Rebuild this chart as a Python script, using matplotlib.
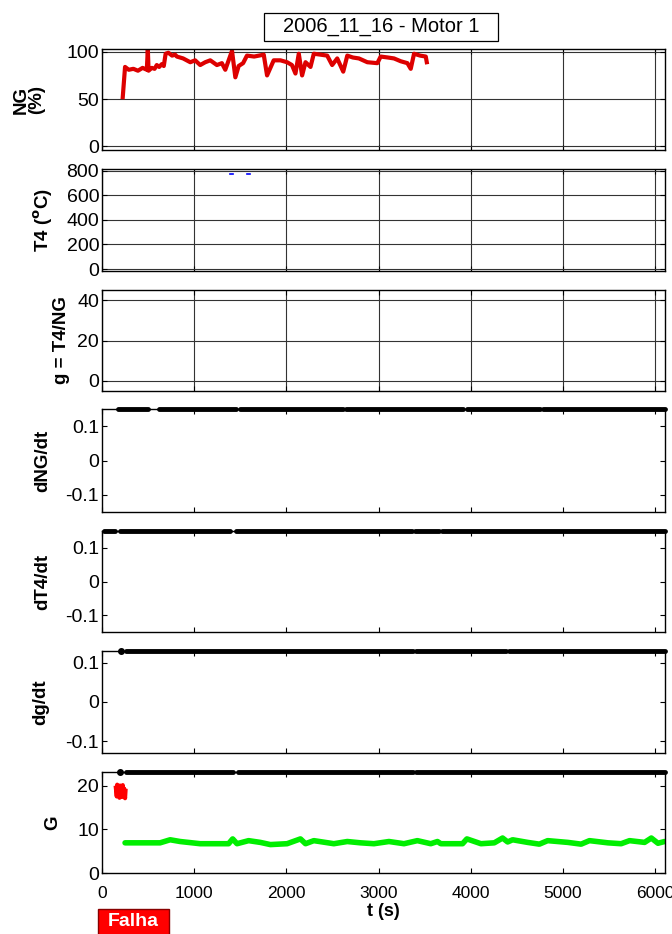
import matplotlib
matplotlib.use('Agg')
import matplotlib.pyplot as plt
from matplotlib.patches import Rectangle
import numpy as np

plt.rcParams['font.family'] = ['Liberation Sans', 'DejaVu Sans']

# NG (%) - motor 1
ng_t = [225, 250, 290, 340, 390, 440, 486, 497, 505, 540, 570, 594, 620, 649, 670, 690,
        720, 760, 793, 812, 880, 957, 1010, 1065, 1120, 1174, 1246, 1300, 1337, 1410,
        1446, 1482, 1530, 1572, 1650, 1754, 1790, 1862, 1935, 2007, 2060, 2098, 2134,
        2170, 2207, 2261, 2297, 2370, 2442, 2496, 2551, 2616, 2660, 2720, 2786, 2877,
        2986, 3022, 3100, 3167, 3240, 3312, 3348, 3384, 3450, 3511, 3522]
ng_v = [52, 84, 81, 82, 80, 83, 81, 103, 80, 83, 82, 86, 84, 87, 85, 98,
        99, 96, 97, 95, 93, 89, 91, 86, 89, 91, 86, 88, 81, 101,
        73, 85, 88, 96, 95, 97, 75, 91, 91, 89, 86, 77, 98,
        75, 89, 84, 98, 97, 96, 86, 93, 79, 96, 94, 93, 89,
        88, 95, 94, 93, 90, 88, 82, 98, 96, 95, 89]

# T4 - only two short blue pieces visible
t4_t = [[1389, 1425], [1570, 1606]]
t4_v = [[770, 770], [770, 770]]

# G (green = normal, red = fault)
g_t = [250, 630, 739, 848, 1065, 1283, 1373, 1417, 1464, 1590, 1717, 1826, 2007, 2152,
       2207, 2297, 2514, 2660, 2804, 2949, 3112, 3275, 3420, 3565, 3638, 3674, 3910,
       3957, 4109, 4254, 4344, 4399, 4453, 4616, 4743, 4833, 5051, 5196, 5286, 5486,
       5630, 5721, 5884, 5957, 6029, 6100]
g_v = [6.9, 6.9, 7.6, 7.2, 6.7, 6.7, 6.7, 7.8, 6.7, 7.4, 7.0, 6.5, 6.7, 7.8,
       6.7, 7.4, 6.7, 7.2, 6.9, 6.7, 7.2, 6.7, 7.4, 6.7, 7.2, 6.7, 6.7,
       7.8, 6.7, 6.9, 8.0, 7.1, 7.6, 7.0, 6.6, 7.4, 7.0, 6.6, 7.4, 6.9,
       6.7, 7.4, 7.0, 8.0, 6.8, 7.2]
gf_t = [150, 160, 165, 175, 180, 190, 195, 205, 210, 220, 225, 235, 240, 250, 255]
gf_v = [19.5, 17.5, 20.2, 18.0, 19.8, 17.2, 20.0, 18.5, 19.6, 17.4, 20.1, 18.2, 19.3, 17.1, 18.8]

# black points sitting on the upper limit (start, end in s)
dng_seg = [(172, 498), (614, 1451), (1498, 2614), (2651, 3917), (3953, 4753), (4777, 6100)]
dt4_seg = [(24, 140), (190, 1390), (1450, 3360), (3390, 3650), (3690, 6100)]
dg_seg = [(265, 3370), (3400, 4380), (4410, 6100)]
dg_dot = [205]
gg_seg = [(265, 1420), (1470, 3370), (3400, 6100)]
gg_dot = [195]

ylabels = ['NG\n(%)', 'T4 ($\\mathbf{^{o}}$C)', 'g = T4/NG', 'dNG/dt', 'dT4/dt', 'dg/dt', 'G']
ylims = [(-4, 103), (-16, 814), (-5, 45), (-0.15, 0.15), (-0.15, 0.15), (-0.13, 0.13), (0, 23.1)]
yticks = [[0, 50, 100], [0, 200, 400, 600, 800], [0, 20, 40],
          [-0.1, 0, 0.1], [-0.1, 0, 0.1], [-0.1, 0, 0.1], [0, 10, 20]]
ytlab = [None, None, None, ['-0.1', '0', '0.1'], ['-0.1', '0', '0.1'], ['-0.1', '0', '0.1'], None]
lab_x = [-0.13, -0.105, -0.072, -0.105, -0.105, -0.108, -0.088]

# panel extents in pixels from the top (top, bottom)
W, H = 672, 934
panels = [(49, 150), (169, 271), (290, 391), (409, 512), (531, 632), (651, 753), (772, 873)]
left, right = 102, 664.5

fig = plt.figure(figsize=(W / 100, H / 100), dpi=100)
axs = []
for i, (top, bot) in enumerate(panels):
    ax = fig.add_axes([left / W, 1 - bot / H, (right - left) / W, (bot - top) / H])
    ax.set_xlim(0, 6100)
    ax.set_ylim(*ylims[i])
    ax.set_yticks(yticks[i])
    if ytlab[i] is not None:
        ax.set_yticklabels(ytlab[i])
    ax.set_xticks(np.arange(0, 7000, 1000))
    ax.tick_params(direction='in', top=True, right=True, length=3.5, width=0.8, pad=2)
    ax.tick_params(axis='y', labelsize=14)
    ax.tick_params(axis='x', labelsize=12.5, pad=9)
    if i < 6:
        ax.set_xticklabels([])
    if i < 3:
        ax.grid(True, color='0.2', lw=0.8, ls='-')
    for s in ax.spines.values():
        s.set_linewidth(1.0)
    ax.set_ylabel(ylabels[i], fontsize=13.5, fontweight='bold', va='center', linespacing=0.9)
    ax.yaxis.set_label_coords(lab_x[i], 0.5)
    axs.append(ax)

# NG
axs[0].plot(ng_t, ng_v, color='#dd0000', lw=3)

# T4
for tt, vv in zip(t4_t, t4_v):
    axs[1].plot(tt, vv, color='blue', lw=1.2)

def top_bars(ax, segs, dots=()):
    ytop = ax.get_ylim()[1]
    for a, b in segs:
        ax.plot([a, b], [ytop, ytop], color='black', lw=3.5, solid_capstyle='round',
                clip_on=False, zorder=5)
    for d in dots:
        ax.plot([d], [ytop], 'o', color='black', ms=4, clip_on=False, zorder=5)

top_bars(axs[3], dng_seg)
top_bars(axs[4], dt4_seg)
top_bars(axs[5], dg_seg, dg_dot)
top_bars(axs[6], gg_seg, gg_dot)

axs[6].plot(g_t, g_v, color='#00ee00', lw=4, solid_capstyle='round')
axs[6].plot(gf_t, gf_v, color='#ff0000', lw=3)
axs[6].set_xlabel('t (s)', fontsize=13, fontweight='bold', labelpad=2)

# title box
fig.patches.append(Rectangle((264 / W, 1 - 41 / H), 234 / W, 28 / H, transform=fig.transFigure,
                             facecolor='white', edgecolor='black', lw=0.9))
fig.text(381 / W, 1 - 27 / H, '2006_11_16 - Motor 1', ha='center', va='center', fontsize=14.5)

# fault tag
fig.patches.append(Rectangle((98 / W, 1 - 936 / H), 71 / W, 27 / H, transform=fig.transFigure,
                             facecolor='#ff0000', edgecolor='#880000', lw=1))
fig.text(133.5 / W, 1 - 922 / H, 'Falha', ha='center', va='center', fontsize=14,
         fontweight='bold', color='white')

fig.savefig('out.png', dpi=100)
plt.close(fig)
